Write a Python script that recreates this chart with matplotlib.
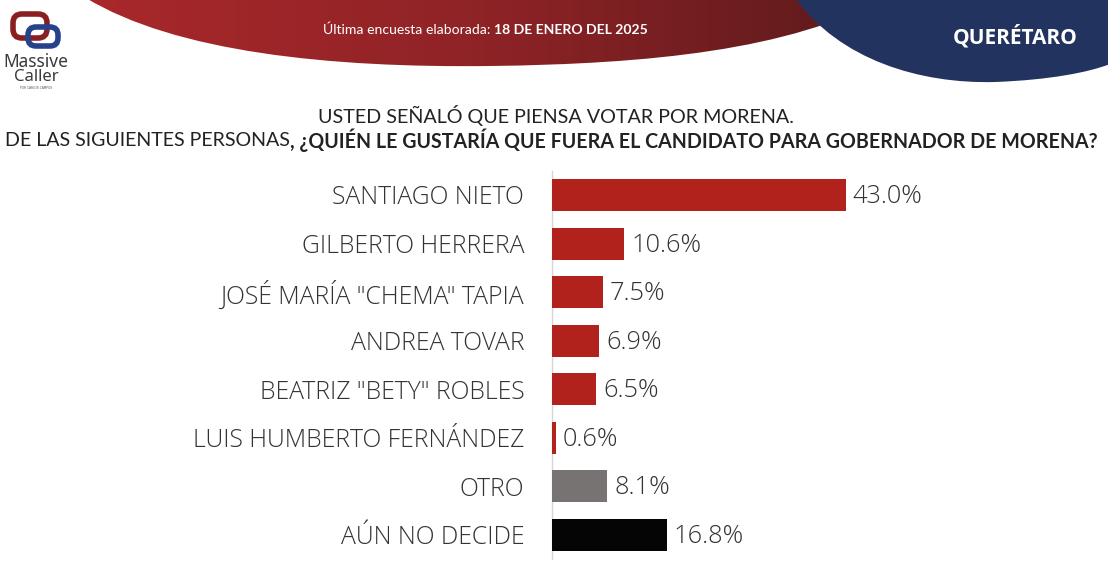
import matplotlib
matplotlib.use("Agg")
import matplotlib.pyplot as plt
import numpy as np
from matplotlib.path import Path
from matplotlib.patches import PathPatch, FancyBboxPatch
from matplotlib.colors import LinearSegmentedColormap

# data
categories = ["SANTIAGO NIETO", "GILBERTO HERRERA", 'JOSÉ MARÍA "CHEMA" TAPIA',
              "ANDREA TOVAR", 'BEATRIZ "BETY" ROBLES', "LUIS HUMBERTO FERNÁNDEZ",
              "OTRO", "AÚN NO DECIDE"]
values = [43.0, 10.6, 7.5, 6.9, 6.5, 0.6, 8.1, 16.8]
bar_colors = ["#b0221b"] * 6 + ["#777372", "#050505"]

title_1 = "USTED SEÑALÓ QUE PIENSA VOTAR POR MORENA."
title_2a = "DE LAS SIGUIENTES PERSONAS"
title_2b = ", ¿QUIÉN LE GUSTARÍA QUE FUERA EL CANDIDATO PARA GOBERNADOR DE MORENA?"
date_a = "Última encuesta elaborada: "
date_b = "18 DE ENERO DEL 2025"
state = "QUERÉTARO"

W, H = 1108, 580
FONT = "Lato"
LBL_FONT = "Open Sans"
TXT = "#333333"

fig = plt.figure(figsize=(W / 100, H / 100), dpi=100)
bg = fig.add_axes([0, 0, 1, 1])
bg.set_xlim(0, W)
bg.set_ylim(H, 0)
bg.axis("off")

# red header swoosh with gradient
red_verts = [(86, -2), (175, 52), (330, 68), (490, 66),
             (650, 64), (790, 50), (885, -2), (86, -2)]
red_codes = [Path.MOVETO, Path.CURVE4, Path.CURVE4, Path.CURVE4,
             Path.CURVE4, Path.CURVE4, Path.CURVE4, Path.CLOSEPOLY]
red_patch = PathPatch(Path(red_verts, red_codes), facecolor="none", edgecolor="none")
bg.add_patch(red_patch)
grad = np.linspace(0, 1, 256).reshape(1, -1)
red_cmap = LinearSegmentedColormap.from_list("r", ["#a9282b", "#8e2326", "#5b1a1b"])
im = bg.imshow(grad, cmap=red_cmap, extent=(86, 885, 70, -2), aspect="auto", zorder=1)
im.set_clip_path(red_patch)

# blue corner shape
blue_verts = [(795, -2), (840, 60), (920, 84), (995, 82),
              (1050, 80), (1090, 72), (1110, 64), (1110, -2), (795, -2)]
blue_codes = [Path.MOVETO, Path.CURVE4, Path.CURVE4, Path.CURVE4,
              Path.CURVE4, Path.CURVE4, Path.CURVE4, Path.LINETO, Path.CLOSEPOLY]
bg.add_patch(PathPatch(Path(blue_verts, blue_codes), facecolor="#233360",
                       edgecolor="none", zorder=2))

# logo
bg.add_patch(FancyBboxPatch((15, 16), 30, 20, boxstyle="round,pad=2,rounding_size=9",
                            facecolor="none", edgecolor="#8a1f22", lw=4, zorder=3))
bg.add_patch(FancyBboxPatch((30, 29), 26, 15, boxstyle="round,pad=2,rounding_size=8",
                            facecolor="none", edgecolor="#25428a", lw=4, zorder=4))
bg.text(36, 62, "Massive", fontsize=12.5, color="#3a3a3a", ha="center", va="center",
        family="Noto Sans", fontweight="medium")
bg.text(36, 77, "Caller", fontsize=12, color="#3a3a3a", ha="center", va="center",
        family="Noto Sans", fontweight="light")
bg.text(36, 88, "POR CARLOS CAMPOS", fontsize=2.2, color="#555555", ha="center", va="center")

fig.canvas.draw()
renderer = fig.canvas.get_renderer()


def run_text(parts, x0, y, size, target=None):
    # draw consecutive text pieces, optionally scaled to a target width
    def place(sz):
        arts = []
        x = x0
        for s, kw in parts:
            t = bg.text(x, y, s, fontsize=sz, va="center", ha="left", zorder=6, **kw)
            bb = t.get_window_extent(renderer)
            x += bb.width
            arts.append(t)
        return arts, x - x0

    arts, width = place(size)
    if target is not None:
        for a in arts:
            a.remove()
        size = size * target / width
        arts, width = place(size)
    return arts


def fit_size(s, target, **kw):
    t = bg.text(0, 0, s, fontsize=10, **kw)
    w = t.get_window_extent(renderer).width
    t.remove()
    return 10 * target / w


run_text([(date_a, dict(color="white", family=FONT)),
          (date_b, dict(color="white", family=FONT, fontweight="bold"))],
         323, 30, 10, target=324)
bg.text(1015, 37, state, fontsize=15, color="white", family="Open Sans",
        fontweight="bold", ha="center", va="center", zorder=6)

run_text([(title_1, dict(color="#222222", family=FONT))], 318, 115, 13, target=475)
run_text([(title_2a, dict(color="#222222", family=FONT)),
          (title_2b, dict(color="#222222", family=FONT, fontweight="bold"))],
         5, 140, 13, target=1092)

lbl_size = fit_size(categories[5], 332, family=LBL_FONT, fontweight="light")
val_size = fit_size("43.0%", 70, family=LBL_FONT, fontweight="light")

# bar chart
scale = 294 / 43.0
x_left = 552
xmax = 50
ax_w = xmax * scale
row = (535 - 195) / 7
top_px = 195 - row / 2
ax = fig.add_axes([x_left / W, 1 - (top_px + 8 * row) / H, ax_w / W, 8 * row / H])
ax.patch.set_alpha(0)
y = np.arange(len(categories))
ax.barh(y, values, height=0.66, color=bar_colors, zorder=3)
ax.set_xlim(0, xmax)
ax.set_ylim(len(categories) - 0.5, -0.5)
ax.set_yticks(y)
ax.set_yticklabels(categories, fontsize=lbl_size, color=TXT, family=LBL_FONT,
                   fontweight="light")
ax.tick_params(axis="y", length=0, pad=20)
ax.set_xticks([])
for s in ["top", "right", "bottom"]:
    ax.spines[s].set_visible(False)
ax.spines["left"].set_color("#d6d6d6")
ax.spines["left"].set_linewidth(1)
for yi, v in zip(y, values):
    ax.text(v + 1.0, yi + 0.03, f"{v:.1f}%", fontsize=val_size, color=TXT, family=LBL_FONT,
            fontweight="light", va="center", ha="left")

fig.savefig("out.png", dpi=100)
